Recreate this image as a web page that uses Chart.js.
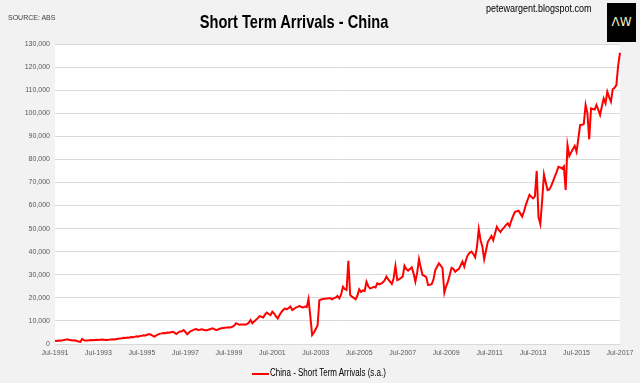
<!DOCTYPE html>
<html>
<head>
<meta charset="utf-8">
<script src="https://cdn.jsdelivr.net/npm/chart.js@4"></script>
<style>
  body { margin: 0; background: #f2f2f2; }
  #wrap { position: relative; width: 640px; height: 383px; background: #f2f2f2; overflow: hidden; }
  #chart { position: absolute; left: 0; top: 0; }
  .txt { position: absolute; white-space: nowrap; font-family: "Liberation Sans", Arial, sans-serif; }
  #title { left: 294px; top: 11px; font-size: 19px; font-weight: bold; color: #000; transform: translateX(-50%) scaleX(0.77); }
  #source { left: 8px; top: 14px; font-size: 7px; color: #404040; }
  #blog { left: 486px; top: 3px; font-size: 10px; color: #000; transform-origin: left center; transform: scaleX(0.9); }
  #logo { position: absolute; left: 607px; top: 3px; width: 29px; height: 39px; background: #000; color: #f3ecc0;
          font-family: "DejaVu Sans", sans-serif; font-size: 12px; text-align: center; line-height: 39px; }
  #legline { position: absolute; left: 252px; top: 373px; width: 17px; height: 2px; background: #ff0000; }
  #legend { left: 270px; top: 367px; font-size: 10px; color: #000; transform-origin: left center; transform: scaleX(0.8); }
</style>
</head>
<body>
<div id="wrap">
  <canvas id="chart" width="640" height="383"></canvas>
  <div class="txt" id="source">SOURCE: ABS</div>
  <div class="txt" id="title">Short Term Arrivals - China</div>
  <div class="txt" id="blog">petewargent.blogspot.com</div>
  <div id="logo">ΛW</div>
  <div id="legline"></div>
  <div class="txt" id="legend">China - Short Term Arrivals (s.a.)</div>
</div>
<script>
// monthly, Jul-1991 .. Jul-2017 (seasonally adjusted)
const startYear = 1991;
const startMonth = 6; // July
const monthNames = ['Jan','Feb','Mar','Apr','May','Jun','Jul','Aug','Sep','Oct','Nov','Dec'];

const arrivals = [
  1400, 1300, 1500, 1400, 1600, 1700, 1900, 2000, 1700, 1600, 1500, 1600,
  1300, 1100, 900, 2200, 1600, 1500, 1500, 1600, 1700, 1600, 1700, 1800,
  1700, 1800, 1900, 1800, 1700, 1700, 1900, 2000, 2100, 2000, 2200, 2300,
  2400, 2500, 2700, 2600, 2800, 2700, 3000, 2900, 3100, 3300, 3200, 3500,
  3600, 3800, 3700, 4000, 4300, 4000, 3500, 3200, 3800, 4200, 4500, 4600,
  4800, 4700, 5000, 4900, 5100, 5300, 4900, 4300, 5000, 5400, 5500, 6000,
  5200, 4200, 5000, 5600, 5900, 6300, 6500, 6100, 6200, 6400, 6200, 6000,
  6000, 6300, 6500, 6800, 6400, 6000, 6300, 6600, 6800, 6900, 7000, 7200,
  7300, 7200, 7500, 8000, 9000, 8600, 8300, 8400, 8500, 8400, 8600, 9200,
  10400, 9000, 9800, 10500, 11200, 12100, 11800, 11500, 12800, 13600, 13000, 12500,
  14000, 13200, 12000, 11100, 12600, 13800, 14700, 15400, 15000, 15600, 16200, 14700,
  15200, 15800, 16100, 16500, 16000, 15800, 16200, 16000, 19500, 12000, 3900, 5000,
  6500, 8000, 19000, 19300, 19500, 19600, 19700, 19800, 19800, 19400, 19900, 20100,
  20800, 19800, 21500, 24800, 23800, 23400, 36000, 21200, 20500, 20000, 19400, 21000,
  23700, 22500, 23200, 23000, 27000, 25000, 24100, 24300, 24800, 24500, 26300, 25800,
  26200, 26700, 27500, 29200, 28000, 27000, 26000, 28500, 33800, 27700, 28000, 28600,
  29200, 33900, 32500, 31800, 32500, 33200, 30600, 27000, 31000, 36800, 33000, 29900,
  29500, 29000, 25600, 25700, 25900, 28000, 32000, 33500, 35000, 34000, 32800, 22200,
  25000, 27000, 30000, 33000, 32500, 31300, 32000, 32500, 34000, 35700, 33500, 36500,
  38600, 39500, 40000, 39000, 37600, 42000, 49700, 45000, 42200, 36700, 40500, 44300,
  45500, 46800, 45000, 48000, 50800, 49500, 48500, 49700, 50500, 51500, 52300, 51000,
  53500, 55500, 57300, 57500, 57800, 56500, 55200, 57500, 60200, 62500, 64600, 63800,
  63100, 64000, 75000, 55000, 52000, 62000, 73500, 70000, 66700, 67000, 68500, 70500,
  72500, 74500, 76800, 76500, 76000, 77000, 66700, 86200, 81500, 83000, 84500, 85800,
  83300, 89000, 94900, 95000, 95300, 103600, 100000, 88700, 102100, 101800, 101600, 103600,
  101500, 99200, 103000, 106400, 104300, 109300, 107000, 105000, 110400, 111000, 112200, 120900,
  126200
];

const labels = [];
for (let i = 0; i < arrivals.length; i++) {
  const m = (startMonth + i) % 12;
  const y = startYear + Math.floor((startMonth + i) / 12);
  labels.push(monthNames[m] + '-' + y);
}

const yMax = 130000;
const yStep = 10000;
const labelEvery = 24;

const plotBg = {
  id: 'plotBg',
  beforeDraw(chart) {
    const { ctx, chartArea: a } = chart;
    ctx.save();
    ctx.fillStyle = '#ffffff';
    ctx.fillRect(a.left, a.top, a.right - a.left, a.bottom - a.top);
    ctx.restore();
  }
};

const ctx = document.getElementById('chart').getContext('2d');
const chart = new Chart(ctx, {
  type: 'line',
  data: {
    labels: labels,
    datasets: [{
      label: 'China - Short Term Arrivals (s.a.)',
      data: arrivals,
      borderColor: '#ff0000',
      borderWidth: 2,
      pointRadius: 0,
      tension: 0,
      fill: false
    }]
  },
  options: {
    responsive: false,
    animation: false,
    layout: { padding: { top: 44, right: 20, bottom: 23, left: 0 } },
    plugins: {
      legend: { display: false },
      tooltip: { enabled: false }
    },
    scales: {
      x: {
        grid: { display: false, drawTicks: false },
        border: { display: false },
        afterFit(scale) { scale.height = 16; },
        ticks: {
          autoSkip: false,
          maxRotation: 0,
          padding: 5,
          color: '#595959',
          font: { family: '"Liberation Sans Narrow", "Liberation Sans", Arial', size: 7 },
          callback(v, i) { return i % labelEvery === 0 ? labels[i] : null; }
        }
      },
      y: {
        min: 0,
        max: yMax,
        grid: { color: '#d9d9d9', drawTicks: false },
        border: { display: false },
        afterFit(scale) { scale.width = 55; },
        ticks: {
          stepSize: yStep,
          padding: 5,
          color: '#595959',
          font: { family: '"Liberation Sans Narrow", "Liberation Sans", Arial', size: 7 },
          callback(v) { return v.toLocaleString('en-US'); }
        }
      }
    }
  },
  plugins: [plotBg]
});
</script>
</body>
</html>
